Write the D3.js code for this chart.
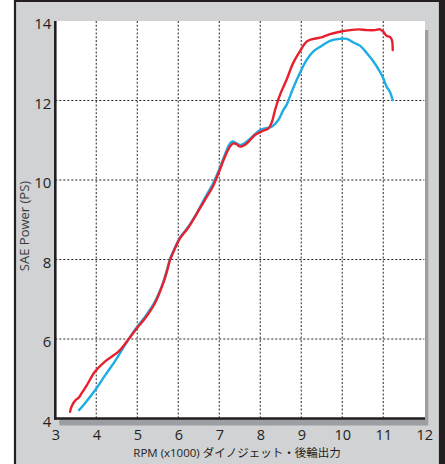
<!DOCTYPE html>
<html>
<head>
<meta charset="utf-8">
<script src="https://cdn.jsdelivr.net/npm/d3@7"></script>
<style>
  body { margin: 0; background: #fff; }
  text { font-family: 'Open Sans', 'Noto Sans CJK JP', sans-serif; fill: #231f20; }
</style>
</head>
<body>
<div id="chartArea"></div>
<script>
// dyno run, red = modified, blue = stock
var redRpm = [3.36, 3.40, 3.50, 3.56, 3.64, 3.77, 3.97, 4.21, 4.54, 4.74, 4.99, 5.19, 5.43, 5.63, 5.72, 5.80,
    5.92, 6.04, 6.24, 6.45, 6.65, 6.85, 6.98, 7.14, 7.26, 7.34, 7.42, 7.51, 7.67, 7.87, 8.07, 8.20,
    8.28, 8.36, 8.48, 8.64, 8.80, 8.96, 9.13, 9.25, 9.46, 9.70, 9.94, 10.19, 10.39, 10.60, 10.80,
    10.92, 11.00, 11.08, 11.16, 11.21, 11.23];
var redPs = [4.17, 4.31, 4.47, 4.51, 4.63, 4.84, 5.18, 5.43, 5.68, 5.93, 6.27, 6.52, 6.90, 7.40, 7.69, 7.99,
    8.28, 8.53, 8.80, 9.15, 9.50, 9.85, 10.17, 10.59, 10.84, 10.92, 10.90, 10.84, 10.92, 11.13, 11.24, 11.30,
    11.45, 11.76, 12.14, 12.52, 12.94, 13.23, 13.48, 13.54, 13.58, 13.67, 13.73, 13.77, 13.79, 13.77, 13.77,
    13.79, 13.73, 13.63, 13.60, 13.52, 13.27];

var blueRpm = [3.58, 3.72, 3.97, 4.21, 4.46, 4.70, 4.94, 5.19, 5.43, 5.63, 5.72, 5.80, 5.92, 6.04, 6.24,
    6.45, 6.65, 6.85, 6.98, 7.14, 7.26, 7.32, 7.42, 7.51, 7.67, 7.87, 8.00, 8.12, 8.28, 8.44, 8.56, 8.64,
    8.80, 8.96, 9.13, 9.29, 9.46, 9.70, 9.94, 10.11, 10.27, 10.43, 10.60, 10.76, 10.92, 11.00, 11.08,
    11.16, 11.23];
var bluePs = [4.21, 4.38, 4.71, 5.08, 5.45, 5.85, 6.23, 6.56, 6.94, 7.42, 7.72, 8.02, 8.30, 8.55, 8.82,
    9.17, 9.55, 9.92, 10.22, 10.65, 10.92, 10.97, 10.92, 10.88, 10.97, 11.15, 11.26, 11.30, 11.34, 11.51, 11.76, 11.89,
    12.31, 12.68, 13.02, 13.23, 13.35, 13.50, 13.55, 13.55, 13.46, 13.38, 13.19, 12.98, 12.72, 12.56, 12.35,
    12.22, 12.01];

var xTicks = [3, 4, 5, 6, 7, 8, 9, 10, 11, 12];
var yTicks = [4, 6, 8, 10, 12, 14];
var xTitle = 'RPM (x1000) ダイノジェット・後輪出力';
var yTitle = 'SAE Power (PS)';

var w = 445, h = 464;

var svg = d3.select('#chartArea').append('svg')
    .attr('width', w)
    .attr('height', h);

var xScale = d3.scaleLinear()
    .domain([3, 12])
    .range([55.3, 424.3]);

var yScale = d3.scaleLinear()
    .domain([4, 14])
    .range([418.5, 21]);

// gray panel with dark frame
svg.append('rect')
    .attr('x', 15).attr('y', 0)
    .attr('width', 425).attr('height', h)
    .attr('fill', '#d1d2d4');
svg.append('path')
    .attr('d', 'M15,' + h + 'V1H440V' + h)
    .attr('fill', 'none')
    .attr('stroke', '#231f20')
    .attr('stroke-width', 2.2);
svg.append('rect')
    .attr('x', 440).attr('y', 0)
    .attr('width', 5).attr('height', h)
    .attr('fill', '#231f20');

// plot shadow + white area
svg.append('rect')
    .attr('x', xScale(3) + 4).attr('y', yScale(14) + 9)
    .attr('width', xScale(12) - xScale(3)).attr('height', yScale(4) - yScale(14) - 2)
    .attr('fill', '#9c9ea1');
svg.append('rect')
    .attr('x', xScale(3)).attr('y', yScale(14))
    .attr('width', xScale(12) - xScale(3) + 0.7).attr('height', yScale(4) - yScale(14))
    .attr('fill', '#fff');

// grid
svg.selectAll('.vgrid')
    .data(xTicks.slice(1, -1))
    .enter()
    .append('line')
    .attr('class', 'vgrid')
    .attr('x1', function(d) { return xScale(d); })
    .attr('x2', function(d) { return xScale(d); })
    .attr('y1', yScale(14))
    .attr('y2', yScale(4))
    .attr('stroke', '#58595b')
    .attr('stroke-width', 1.3)
    .attr('stroke-dasharray', '2,1.8');

svg.selectAll('.hgrid')
    .data(yTicks.slice(1, -1))
    .enter()
    .append('line')
    .attr('class', 'hgrid')
    .attr('x1', xScale(3))
    .attr('x2', xScale(12))
    .attr('y1', function(d) { return yScale(d); })
    .attr('y2', function(d) { return yScale(d); })
    .attr('stroke', '#231f20')
    .attr('stroke-width', 1)
    .attr('stroke-dasharray', '2,2');

// curves
var line = d3.line()
    .x(function(d) { return xScale(d[0]); })
    .y(function(d) { return yScale(d[1]); })
    .curve(d3.curveCatmullRom.alpha(0.5));

svg.append('path')
    .datum(d3.zip(blueRpm, bluePs))
    .attr('d', line)
    .attr('fill', 'none')
    .attr('stroke', '#1cade4')
    .attr('stroke-width', 2.4)
    .attr('stroke-linejoin', 'round')
    .attr('stroke-linecap', 'round');

svg.append('path')
    .datum(d3.zip(redRpm, redPs))
    .attr('d', line)
    .attr('fill', 'none')
    .attr('stroke', '#e8202d')
    .attr('stroke-width', 2.4)
    .attr('stroke-linejoin', 'round')
    .attr('stroke-linecap', 'round');

// axes
var yAxis = svg.append('g')
    .attr('transform', 'translate(' + xScale(3) + ',0)')
    .call(d3.axisLeft(yScale).tickValues(yTicks).tickSize(0).tickPadding(4));
yAxis.select('.domain').remove();
yAxis.selectAll('text')
    .attr('dy', '0.5em')
    .style('font-size', '15px')
    .style('font-family', "'Open Sans', sans-serif");

var xAxis = svg.append('g')
    .attr('transform', 'translate(0,' + yScale(4) + ')')
    .call(d3.axisBottom(xScale).tickValues(xTicks).tickSize(0).tickPadding(11));
xAxis.select('.domain').remove();
xAxis.selectAll('text')
    .style('font-size', '14.5px')
    .style('font-family', "'Open Sans', sans-serif");

svg.append('line')
    .attr('x1', xScale(3)).attr('x2', xScale(3))
    .attr('y1', yScale(14)).attr('y2', yScale(4) + 1.2)
    .attr('stroke', '#231f20')
    .attr('stroke-width', 2.6);
svg.append('line')
    .attr('x1', xScale(3) - 1.3).attr('x2', xScale(12) + 0.7)
    .attr('y1', yScale(4)).attr('y2', yScale(4))
    .attr('stroke', '#231f20')
    .attr('stroke-width', 2.6);

// titles
svg.append('text')
    .attr('x', 237).attr('y', 457)
    .attr('text-anchor', 'middle')
    .style('font-size', '11.5px')
    .text(xTitle);

svg.append('text')
    .attr('transform', 'translate(29,226) rotate(-90)')
    .attr('text-anchor', 'middle')
    .style('font-size', '13px')
    .style('fill', '#3a3a3c')
    .text(yTitle);
</script>
</body>
</html>
